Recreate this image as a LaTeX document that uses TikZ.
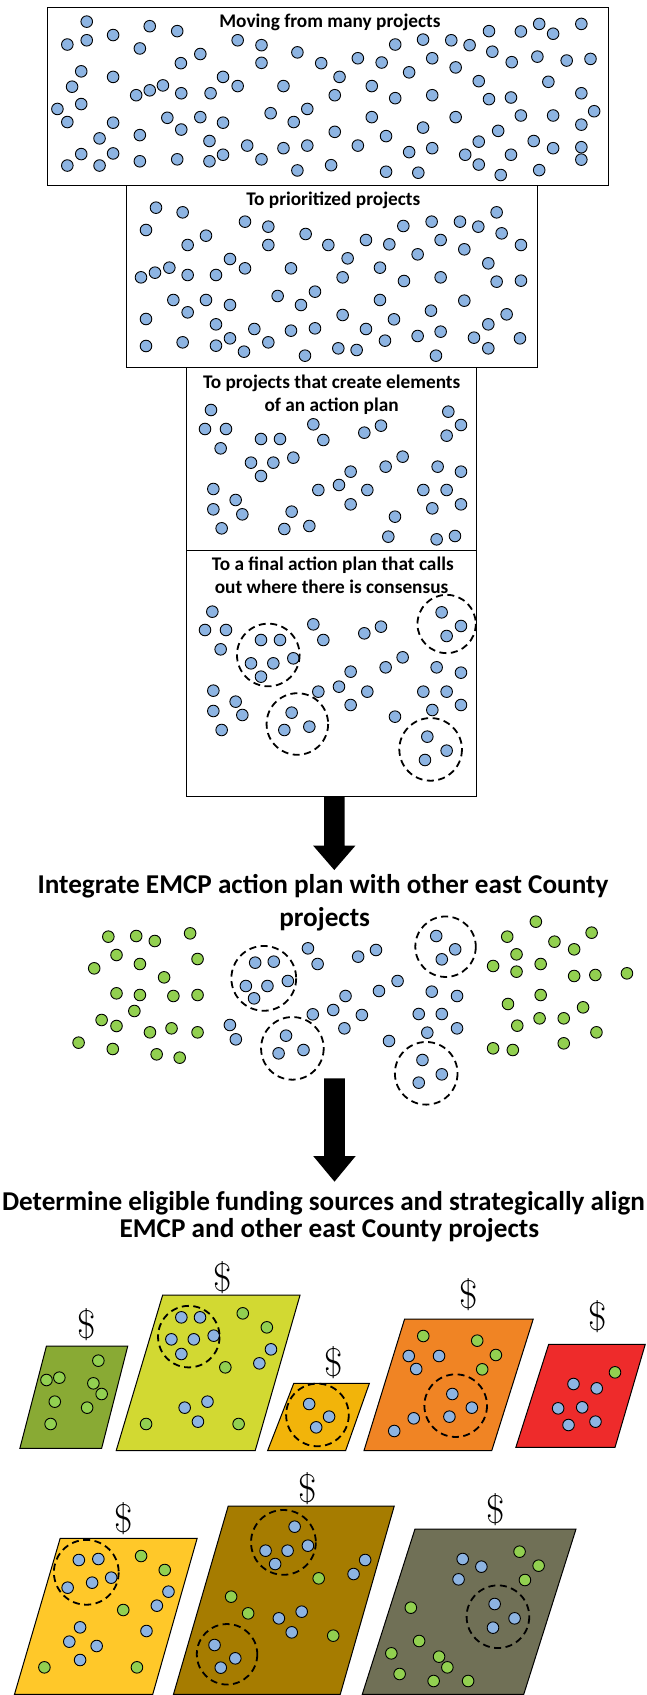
\documentclass[tikz,border=0pt]{standalone}
\usepackage{fontspec}
\newfontfamily\carl{Carlito}
\definecolor{dotblue}{RGB}{141,180,226}
\definecolor{dotgreen}{RGB}{146,208,80}
\definecolor{pone}{RGB}{137,170,52}
\definecolor{ptwo}{RGB}{210,217,50}
\definecolor{pthree}{RGB}{242,180,10}
\definecolor{pfour}{RGB}{240,132,36}
\definecolor{pfive}{RGB}{238,43,43}
\definecolor{qone}{RGB}{255,200,41}
\definecolor{qtwo}{RGB}{166,124,0}
\definecolor{qthree}{RGB}{112,112,86}
\newcommand\dmap[4]{\gdef\dmX{#1}\gdef\dmSX{#2}\gdef\dmY{#3}\gdef\dmSY{#4}}
\newcommand\pts[2]{\foreach \X/\Y in {#2} {\draw[#1] ({\dmX+\X*\dmSX},{\dmY+\Y*\dmSY}) circle[radius=5.8pt];}}
\begin{document}
\begin{tikzpicture}[x=1.08013pt,y=-1.08013pt,
  bdot/.style={draw=black,line width=0.9pt,fill=dotblue},
  gdot/.style={draw=black,line width=0.9pt,fill=dotgreen},
  frame/.style={draw=black,line width=1pt,fill=white},
  grp/.style={draw=black,line width=1.8pt,dash pattern=on 7pt off 4.5pt},
  lot/.style={draw=black,line width=1pt},
  ttl/.style={font=\carl\bfseries\fontsize{19.3}{23}\selectfont,inner sep=0pt,anchor=base},
  big/.style={font=\carl\bfseries\fontsize{27.2}{32}\selectfont,inner sep=0pt,anchor=base},
  usd/.style={font=\fontsize{40}{44}\selectfont,inner sep=0pt},
  blockarrow/.style={fill=black}
]
\useasboundingbox (0,0) rectangle (599,1569.3);
% ---------- box 1
\draw[frame] (44,7) rectangle (563,172);
\node[ttl] (t1) at (305.5,25.2) {Moving from many projects};
\dmap{41.29}{0.3392}{0.944}{0.3028}
\pts{bdot}{115/63,287/77,362/92,187/104,62/133,115/120,260/145,527/120,592/135,425/162,372/190,592/189,690/157,755/190,855/175,920/188,957/133,1033/118,1110/120,1160/135,1213/92,1300/93,1350/70,1388/100,1465/70,1222/155,1058/175,1345/170,1275/187,1425/182,1490/177,995/218,1122/203,805/232,100/215,187/232,75/262,250/288,287/273,323/258,373/282,453/282,487/232,527/260,652/260,792/288,893/260,957/297,1058/288,1185/245,1375/247,1213/300,1273/295,1465/282,35/330,100/315,62/370,187/372,335/357,373/393,425/355,487/372,617/343,680/370,717/330,893/355,1122/355,1033/387,1300/350,1388/350,1500/337,1465/378,150/420,260/410,450/428,792/400,932/413,1238/397,1185/430,1335/428,1388/450,1465/447,1465/485,100/468,187/466,62/503,150/503,260/490,362/484,450/490,487/470,553/442,592/484,652/450,717/442,855/442,995/462,1058/450,1148/470,1185/500,1273/470,1245/532,1350/517,690/518,782/502,932/522,1020/525}
% ---------- box 2
\draw[frame] (117,172) rectangle (497.5,340.4);
\node[ttl] (t2) at (308.6,190.4) {To prioritized projects};
\dmap{111.1}{0.3086}{171.28}{0.3086}
\pts{bdot}{108/68,188/82,375/110,445/125,78/135,203/180,258/152,445/180,557/147,625/180,738/165,808/178,850/123,935/110,1020/110,1075/125,1130/82,1145/145,1203/180,962/165,1033/193,893/208,683/220,330/222,375/250,63/277,105/263,148/248,203/270,288/270,513/250,668/277,780/248,852/288,962/277,1105/235,1130/290,1203/287,160/345,203/382,258/345,330/360,473/333,543/360,585/320,668/390,780/345,822/403,933/377,1033/347,1160/388,1105/418,78/402,288/418,403/432,513/437,585/430,738/432,893/453,962/440,1062/458,1200/460,78/483,188/472,288/482,330/460,372/500,445/472,555/512,655/490,710/495,795/467,948/512,1105/490}
% ---------- box 3
\draw[frame] (172.5,340.4) rectangle (441.5,509.5);
\node[ttl] (t3a) at (307.1,359.5) {To projects that create elements};
\node[ttl] (t3b) at (307,381.1) {of an action plan};
\dmap{166.65}{0.3086}{337.93}{0.3086}
\pts{bdot}{93/135,75/192,138/192,122/250,243/222,300/222,213/293,280/293,340/278,243/333,400/178,430/225,553/203,603/182,805/140,843/180,800/212,668/275,617/305,512/320,477/360,415/375,562/375,512/418,773/305,843/320,730/375,800/375,757/430,843/418,100/372,100/433,167/405,187/448,125/490,335/440,313/492,388/483,645/455,625/515,770/523,825/513}
% ---------- box 4
\draw[frame] (172.5,509.5) rectangle (441.5,737.6);
\node[ttl] (t4a) at (308.1,528.3) {To a final action plan that calls};
\node[ttl] (t4b) at (307,549.9) {out where there is consensus};
\dmap{166.65}{0.3086}{509.21}{0.3086}
\pts{bdot}{97/185,75/240,138/240,122/298,243/270,300/270,213/340,280/340,340/325,243/380,400/223,430/270,553/250,603/230,785/187,843/228,800/258,668/322,617/352,512/365,477/410,415/425,562/425,512/465,770/352,843/368,730/425,800/425,757/480,843/465,100/422,100/483,167/455,187/495,125/540,335/488,313/540,388/530,645/500,742/560,800/602,735/630}
\draw[grp] (248.4,606.4) circle[radius=29];
\draw[grp] (413.5,577.7) circle[radius=27];
\draw[grp] (275.3,670.3) circle[radius=28.5];
\draw[grp] (398.7,693.8) circle[radius=29];
% ---------- arrow 1
\fill[blockarrow] (300,737.6) -- (319,737.6) -- (319,783) -- (329,783) -- (309.5,805.5) -- (290,783) -- (300,783) -- cycle;
% ---------- integrate
\node[big] (i1) at (299,827.1) {Integrate EMCP action plan with other east County};
\node[big] (i2) at (300.6,857.9) {projects};
\dmap{55.55}{0.3442}{796.22}{0.3086}
\pts{gdot}{130/230,205/228,255/243,350/220,152/285,215/312,92/325,370/297,280/352,152/400,215/405,305/408,370/405,200/453,112/480,152/498,242/517,300/505,370/517,50/548,142/567,260/583,322/593,1280/185,1203/230,1430/218,1330/245,1383/268,1228/283,1165/318,1228/335,1293/312,1383/348,1440/345,1525/340,1293/405,1205/432,1407/442,1290/475,1355/475,1230/497,1443/517,1355/550,1165/565,1218/570}
\pts{bdot}{525/308,575/305,500/378,558/378,613/363,522/415,667/265,693/312,802/290,850/270,1012/228,1063/268,1027/298,858/393,908/363,768/408,735/450,680/463,812/465,765/505,1000/395,1068/408,965/462,1027/462,988/518,1068/505,457/495,473/538,608/527,588/580,655/570,885/543,975/600,1027/643,965/668}
\draw[grp] (244.2,905.8) circle[radius=30];
\draw[grp] (412.5,876.5) circle[radius=28];
\draw[grp] (270.7,970.6) circle[radius=29];
\draw[grp] (394.6,993.7) circle[radius=29];
% ---------- arrow 2
\fill[blockarrow] (300,998.4) -- (319.4,998.4) -- (319.4,1070.3) -- (329.3,1070.3) -- (309.7,1094) -- (290,1070.3) -- (300,1070.3) -- cycle;
% ---------- determine
\node[big] (d1) at (299.5,1120.3) {Determine eligible funding sources and strategically align};
\node[big] (d2) at (305,1145.5) {EMCP and other east County projects};
% ---------- funding row 1
\dmap{0}{0.3842}{1148.04}{0.3086}
\draw[lot,fill=pone] (43,1246.2) -- (118.3,1246.2) -- (94.1,1340.9) -- (18.4,1340.9) -- cycle;
\node[usd] (s1) at (80.7,1226.7) {\$};
\pts{gdot}{237/362,112/420,143/413,225/430,245/462,132/485,210/503,122/552}
\draw[lot,fill=ptwo] (150.6,1199) -- (277.8,1199) -- (236.3,1343) -- (107.6,1343) -- cycle;
\node[usd] (s2) at (206.3,1182.6) {\$};
\pts{bdot}{437/232,482/232,413/298,467/298,515/287,437/342,625/370,653/328,445/503,500/485,477/545}
\pts{gdot}{585/220,643/262,543/382,352/552,575/552}
\draw[grp] (174.8,1237.5) circle[radius=28.5];
\draw[lot,fill=pthree] (272,1280.7) -- (342,1280.7) -- (320,1343) -- (247.8,1343) -- cycle;
\node[usd] (s3) at (309.3,1261.6) {\$};
\pts{bdot}{745/492,793/530,762/562}
\draw[grp] (293.9,1310) circle[radius=29];
\draw[lot,fill=pfour] (374.6,1221.2) -- (493.7,1221.2) -- (455.3,1343) -- (337,1343) -- cycle;
\node[usd] (s4) at (434.1,1199) {\$};
\pts{gdot}{1020/288,1150/302,1195/345,1162/388}
\pts{bdot}{985/348,1058/348,1003/387,1090/462,1137/503,1083/530,997/535,950/573}
\draw[grp] (421.9,1301.4) circle[radius=29];
\draw[lot,fill=pfive] (508,1244.6) -- (597.4,1244.6) -- (569.4,1340) -- (477.6,1340) -- cycle;
\node[usd] (s5) at (553.2,1219) {\$};
\pts{gdot}{1482/397}
\pts{bdot}{1382/432,1438/445,1345/505,1403/502,1370/555,1435/545}
% ---------- funding row 2
\dmap{0}{0.3842}{1347.1}{0.3086}
\draw[lot,fill=qone] (55.7,1424.3) -- (182.5,1424.3) -- (141.4,1568.7) -- (13.4,1568.7) -- cycle;
\node[usd] (s6) at (114.5,1405.7) {\$};
\pts{bdot}{190/315,237/312,163/398,222/383,268/368,406/410,378/452,193/517,167/560,233/573,193/615,353/528}
\pts{gdot}{340/303,397/345,297/465,107/637,330/637}
\draw[grp] (79.9,1455.7) circle[radius=30];
\draw[lot,fill=qtwo] (211.3,1394.3) -- (365,1394.3) -- (315,1568.7) -- (160.6,1568.7) -- cycle;
\node[usd] (s7) at (285.1,1378) {\$};
\pts{bdot}{710/215,640/287,693/287,742/272,663/327,880/315,852/357,672/490,727/470,703/532,517/570,567/610,532/638}
\pts{gdot}{768/370,557/425,598/475,803/542}
\draw[grp] (262.4,1428) circle[radius=30];
\draw[grp] (210.2,1531.6) circle[radius=28];
\draw[lot,fill=qthree] (384.2,1415.6) -- (533.3,1415.6) -- (484.9,1568.7) -- (335.4,1568.7) -- cycle;
\node[usd] (s8) at (459.1,1398) {\$};
\pts{bdot}{1115/312,1160/335,1105/373,1192/447,1240/490,1188/518}
\pts{gdot}{1252/290,1298/332,1265/375,990/458,1010/558,943/595,1058/605,1078/637,963/657,1045/678,1128/678}
\draw[grp] (461,1496.8) circle[radius=29];
\end{tikzpicture}
\end{document}
